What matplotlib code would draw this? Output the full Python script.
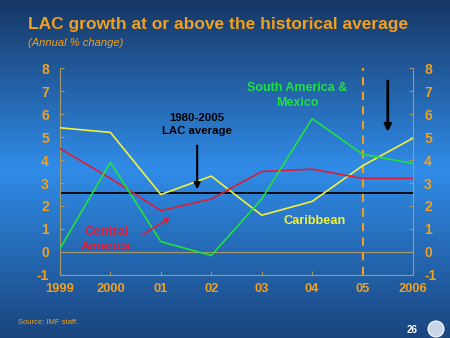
import numpy as np
import matplotlib
matplotlib.use("Agg")
import matplotlib.pyplot as plt

plt.rcParams['font.family'] = ['Liberation Sans', 'DejaVu Sans']
plt.rcParams['axes.unicode_minus'] = False

years = ['1999', '2000', '01', '02', '03', '04', '05', '2006']
caribbean = [5.4, 5.2, 2.5, 3.3, 1.6, 2.2, 3.75, 4.95]
central_america = [4.5, 3.2, 1.8, 2.3, 3.5, 3.6, 3.2, 3.2]
south_america_mexico = [0.15, 3.9, 0.45, -0.15, 2.3, 5.8, 4.25, 3.85]
lac_average = 2.55

orange = '#f0a020'
axcol = '#a89868'

fig = plt.figure(figsize=(4.5, 3.38), dpi=100)

# slide background gradient
bg = fig.add_axes([0, 0, 1, 1], zorder=-10)
t = np.linspace(0, 1, 300)
top = np.array([0x17, 0x36, 0x64]) / 255
mid = np.array([0x30, 0x8c, 0xe8]) / 255
bot = np.array([0x1a, 0x45, 0x7e]) / 255
cols = []
for v in t:
    if v < 0.5:
        c = top + (mid - top) * (v / 0.5)
    else:
        c = mid + (bot - mid) * ((v - 0.5) / 0.5)
    cols.append(c)
grad = np.array(cols)[:, None, :]
bg.imshow(grad, aspect='auto', extent=[0, 1, 0, 1])
bg.axis('off')

ax = fig.add_axes([0.1333, 0.1864, 0.7845, 0.6124])
ax.patch.set_alpha(0)
x = np.arange(len(years))

ax.plot(x, caribbean, color='#f0f040', lw=1.2, zorder=3)
ax.plot(x, central_america, color='#d8203a', lw=1.2, zorder=3)
ax.plot(x, south_america_mexico, color='#20e040', lw=1.2, zorder=3)
ax.axhline(lac_average, color='black', lw=1.3, zorder=2)
ax.axhline(0, color=axcol, lw=0.8, zorder=1)
ax.axvline(6, color=orange, lw=1.5, ls=(0, (4, 3)), zorder=2)

ax.set_xlim(0, 7)
ax.set_ylim(-1, 8)
ax.set_xticks(x)
ax.set_xticklabels(years)
ax.set_yticks(range(-1, 9))
ax.tick_params(axis='both', colors=axcol, labelcolor=orange, labelsize=10,
               direction='in', length=3, width=0.8)
ax.tick_params(axis='y', left=True, right=True, labelleft=True, labelright=True, pad=8)
ax.tick_params(axis='x', pad=6, labelsize=9.3)
for tk in ax.yaxis.get_major_ticks():
    tk.label1.set_fontweight('bold')
    tk.label2.set_fontweight('bold')
for tk in ax.xaxis.get_major_ticks():
    tk.label1.set_fontweight('bold')
ax.spines['top'].set_visible(False)
for s in ['left', 'right', 'bottom']:
    ax.spines[s].set_color(axcol)
    ax.spines[s].set_linewidth(0.8)

# annotations
ax.text(2.72, 5.55, '1980-2005\nLAC average', ha='center', va='center',
        fontsize=8.2, fontweight='bold', color='black', linespacing=1.35)
ax.annotate('', xy=(2.72, 2.6), xytext=(2.72, 4.75),
            arrowprops=dict(arrowstyle='-|>', color='black', lw=1.5, mutation_scale=9))
ax.text(4.7, 6.8, 'South America &\nMexico', ha='center', va='center',
        fontsize=9, fontweight='bold', color='#20e040', linespacing=1.3)
ax.text(5.05, 1.35, 'Caribbean', ha='center', va='center',
        fontsize=9.2, fontweight='bold', color='#f0f040')
ax.text(0.92, 0.55, 'Central\nAmerica', ha='center', va='center',
        fontsize=9.3, fontweight='bold', color='#d8203a', linespacing=1.3)
ax.annotate('', xy=(2.23, 1.55), xytext=(1.6, 0.7),
            arrowprops=dict(arrowstyle='-|>', color='#d8203a', lw=1.2, mutation_scale=7))
ax.annotate('', xy=(6.5, 5.1), xytext=(6.5, 7.55),
            arrowprops=dict(arrowstyle='-|>', color='black', lw=2.0, mutation_scale=10))

fig.text(28 / 450, 1 - 24 / 338, 'LAC growth at or above the historical average',
         fontsize=12.5, fontweight='bold', color=orange, va='center')
fig.text(28 / 450, 1 - 43 / 338, '(Annual % change)', fontsize=8,
         style='italic', color=orange, va='center')
fig.text(18 / 450, 1 - 323 / 338, 'Source: IMF staff.', fontsize=5.5,
         color=orange, va='center')
fig.text(418 / 450, 1 - 330 / 338, '26', fontsize=7, fontweight='bold',
         color='white', ha='right', va='center')
fig.patches.append(matplotlib.patches.Ellipse((436 / 450, 1 - 329 / 338), 16 / 450, 16 / 338,
                                              transform=fig.transFigure, facecolor='#c8d4e8',
                                              edgecolor='white', lw=0.8))

fig.savefig('out.png', dpi=100)
